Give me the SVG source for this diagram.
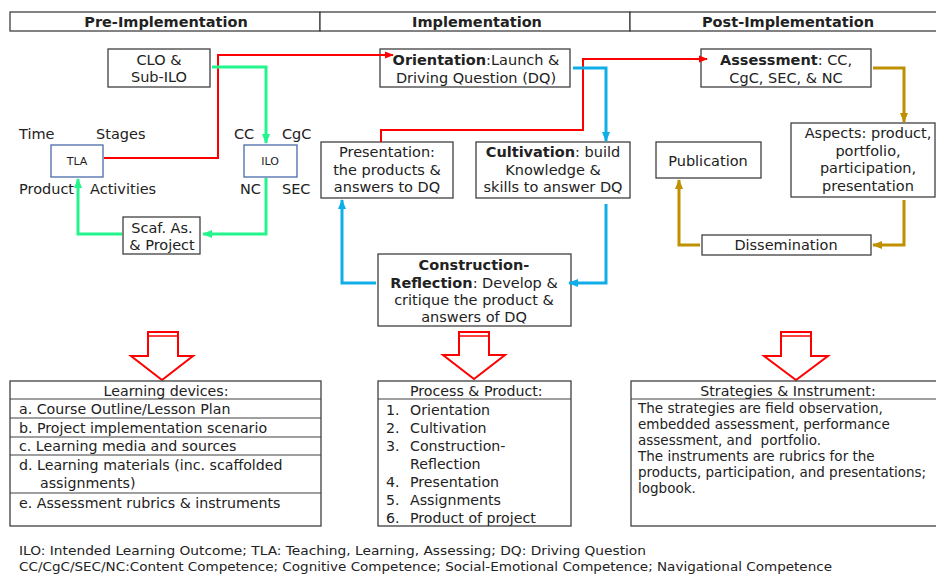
<svg xmlns="http://www.w3.org/2000/svg" width="936" height="575" viewBox="0 0 936 575">
<style>
text{font-family:"DejaVu Sans",Verdana,sans-serif;fill:#222;}
.t{font-size:14.5px;}
.c{text-anchor:middle;}
.h{font-size:14.5px;font-weight:bold;text-anchor:middle;}
.s{font-size:11px;text-anchor:middle;}
.l{font-size:14.2px;}
.m{font-size:13.5px;}
.f{font-size:12px;}
.box{fill:#fff;stroke:#404040;stroke-width:1.3;}
.bbox{fill:#fff;stroke:#4a6aa8;stroke-width:1.3;}
.row{stroke:#404040;stroke-width:1.2;}
.red{fill:none;stroke:#ff0000;stroke-width:2;}
.grn{fill:none;stroke:#22f58c;stroke-width:3;}
.blu{fill:none;stroke:#10aee8;stroke-width:3;}
.gld{fill:none;stroke:#bf9000;stroke-width:3;}
.big{fill:#fff;stroke:#ff0000;stroke-width:2;stroke-linejoin:miter;}
</style>
<defs>
<marker id="mr" viewBox="0 0 10 10" refX="9" refY="5" markerWidth="9" markerHeight="9" markerUnits="userSpaceOnUse" orient="auto"><path d="M0,1 L10,5 L0,9 z" fill="#ff0000"/></marker>
<marker id="mg" viewBox="0 0 10 10" refX="9" refY="5" markerWidth="10" markerHeight="10" markerUnits="userSpaceOnUse" orient="auto"><path d="M0,1 L10,5 L0,9 z" fill="#22f58c"/></marker>
<marker id="mb" viewBox="0 0 10 10" refX="9" refY="5" markerWidth="10" markerHeight="10" markerUnits="userSpaceOnUse" orient="auto"><path d="M0,1 L10,5 L0,9 z" fill="#10aee8"/></marker>
<marker id="my" viewBox="0 0 10 10" refX="9" refY="5" markerWidth="10" markerHeight="10" markerUnits="userSpaceOnUse" orient="auto"><path d="M0,1 L10,5 L0,9 z" fill="#bf9000"/></marker>
</defs>
<rect width="936" height="575" fill="#fff"/>

<g id="headers">
<rect class="box" x="10" y="12" width="310" height="19"/>
<rect class="box" x="320" y="12" width="310" height="19"/>
<rect class="box" x="630" y="12" width="310" height="19"/>
<text class="h" x="166" y="27">Pre-Implementation</text>
<text class="h" x="477" y="27">Implementation</text>
<text class="h" x="788" y="27">Post-Implementation</text>
</g>

<g id="clo">
<rect class="box" x="108" y="49" width="102" height="38"/>
<text class="t c" x="159" y="65">CLO &amp;</text>
<text class="t c" x="159" y="82">Sub-ILO</text>
</g>
<g id="tla">
<rect class="bbox" x="51" y="145" width="52" height="32"/>
<text class="s" x="77" y="165">TLA</text>
<text class="t" x="19" y="139">Time</text>
<text class="t" x="96" y="139">Stages</text>
<text class="t" x="19" y="194">Product</text>
<text class="t" x="90" y="194">Activities</text>
</g>
<g id="ilo">
<rect class="bbox" x="244" y="145" width="53" height="32"/>
<text class="s" x="270" y="165">ILO</text>
<text class="t" x="234" y="139">CC</text>
<text class="t" x="282" y="139">CgC</text>
<text class="t" x="240" y="194">NC</text>
<text class="t" x="282" y="194">SEC</text>
</g>
<g id="scaf">
<rect class="box" x="123" y="217" width="77" height="37"/>
<text class="t c" x="162" y="233">Scaf. As.</text>
<text class="t c" x="162" y="250">&amp; Project</text>
</g>

<g id="orientation">
<rect class="box" x="380" y="49" width="190" height="38"/>
<text class="t c" x="476" y="65"><tspan font-weight="bold">Orientation</tspan>:Launch &amp;</text>
<text class="t c" x="476" y="83">Driving Question (DQ)</text>
</g>
<g id="presentation">
<rect class="box" x="321" y="142" width="132" height="56"/>
<text class="t c" x="387" y="157">Presentation:</text>
<text class="t c" x="387" y="175">the products &amp;</text>
<text class="t c" x="387" y="192">answers to DQ</text>
</g>
<g id="cultivation">
<rect class="box" x="476" y="142" width="154" height="56"/>
<text class="t c" x="553" y="157"><tspan font-weight="bold">Cultivation</tspan>: build</text>
<text class="t c" x="553" y="175">Knowledge &amp;</text>
<text class="t c" x="553" y="192">skills to answer DQ</text>
</g>
<g id="construction">
<rect class="box" x="378" y="254" width="193" height="72"/>
<text class="t c" x="474" y="270" font-weight="bold">Construction-</text>
<text class="t c" x="474" y="288"><tspan font-weight="bold">Reflection</tspan>: Develop &amp;</text>
<text class="t c" x="474" y="305">critique the product &amp;</text>
<text class="t c" x="474" y="322">answers of DQ</text>
</g>

<g id="assessment">
<rect class="box" x="701" y="49" width="170" height="38"/>
<text class="t c" x="786" y="65"><tspan font-weight="bold">Assessment</tspan>: CC,</text>
<text class="t c" x="786" y="83">CgC, SEC, &amp; NC</text>
</g>
<g id="aspects">
<rect class="box" x="791" y="123" width="144" height="74"/>
<text class="t c" x="868" y="138">Aspects: product,</text>
<text class="t c" x="868" y="156">portfolio,</text>
<text class="t c" x="868" y="173">participation,</text>
<text class="t c" x="868" y="191">presentation</text>
</g>
<g id="publication">
<rect class="box" x="656" y="142" width="105" height="36"/>
<text class="t c" x="708" y="166">Publication</text>
</g>
<g id="dissemination">
<rect class="box" x="702" y="235" width="169" height="20"/>
<text class="t c" x="786" y="250">Dissemination</text>
</g>

<g id="connectors">
<polyline class="red" points="104,158 218,158 218,55 393,55" marker-end="url(#mr)"/>
<polyline class="red" points="381,142 381,130 583,130 583,59 707,59" marker-end="url(#mr)"/>
<polyline class="grn" points="212,67 266,67 266,143" marker-end="url(#mg)"/>
<polyline class="grn" points="266,178 266,234 203,234" marker-end="url(#mg)"/>
<polyline class="grn" points="122,234 78,234 78,179" marker-end="url(#mg)"/>
<polyline class="blu" points="573,68 606,68 606,141" marker-end="url(#mb)"/>
<polyline class="blu" points="606,204 606,283 569,283" marker-end="url(#mb)"/>
<polyline class="blu" points="376,283 342,283 342,200" marker-end="url(#mb)"/>
<polyline class="gld" points="873,68 904,68 904,122" marker-end="url(#my)"/>
<polyline class="gld" points="904,200 904,245 873,245" marker-end="url(#my)"/>
<polyline class="gld" points="700,245 679,245 679,180" marker-end="url(#my)"/>
</g>

<g id="arrow-pre">
<polygon class="big" points="148,332 178,332 178,356 193,356 162,380 131,356 148,356"/>
<line x1="148" y1="336" x2="178" y2="336" stroke="#ff0000" stroke-width="1.5"/>
</g>
<g id="arrow-impl">
<polygon class="big" points="459,332 489,332 489,355 505,355 474,379 443,355 459,355"/>
<line x1="459" y1="336" x2="489" y2="336" stroke="#ff0000" stroke-width="1.5"/>
</g>
<g id="arrow-post">
<polygon class="big" points="781,332 811,332 811,356 828,356 796,380 764,356 781,356"/>
<line x1="781" y1="336" x2="811" y2="336" stroke="#ff0000" stroke-width="1.5"/>
</g>

<g id="learning-devices">
<rect class="box" x="10" y="381" width="311" height="145"/>
<line class="row" x1="10" y1="399" x2="321" y2="399"/>
<line class="row" x1="10" y1="418" x2="321" y2="418"/>
<line class="row" x1="10" y1="437" x2="321" y2="437"/>
<line class="row" x1="10" y1="455" x2="321" y2="455"/>
<line class="row" x1="10" y1="493" x2="321" y2="493"/>
<text class="l c" x="166" y="396">Learning devices:</text>
<text class="l" x="19" y="414">a. Course Outline/Lesson Plan</text>
<text class="l" x="19" y="433">b. Project implementation scenario</text>
<text class="l" x="19" y="451">c. Learning media and sources</text>
<text class="l" x="19" y="470">d. Learning materials (inc. scaffolded</text>
<text class="l" x="40" y="488">assignments)</text>
<text class="l" x="19" y="508">e. Assessment rubrics &amp; instruments</text>
</g>

<g id="process-product">
<rect class="box" x="378" y="381" width="193" height="145"/>
<line class="row" x1="378" y1="399" x2="571" y2="399"/>
<text class="l" x="410" y="396">Process &amp; Product:</text>
<text class="l" x="386" y="415">1.</text><text class="l" x="410" y="415">Orientation</text>
<text class="l" x="386" y="433">2.</text><text class="l" x="410" y="433">Cultivation</text>
<text class="l" x="386" y="451">3.</text><text class="l" x="410" y="451">Construction-</text>
<text class="l" x="410" y="469">Reflection</text>
<text class="l" x="386" y="487">4.</text><text class="l" x="410" y="487">Presentation</text>
<text class="l" x="386" y="505">5.</text><text class="l" x="410" y="505">Assignments</text>
<text class="l" x="386" y="523">6.</text><text class="l" x="410" y="523">Product of project</text>
</g>

<g id="strategies">
<rect class="box" x="631" y="381" width="310" height="145"/>
<line class="row" x1="631" y1="399" x2="936" y2="399"/>
<text class="l c" x="788" y="396">Strategies &amp; Instrument:</text>
<text class="m" x="638" y="413">The strategies are field observation,</text>
<text class="m" x="638" y="429">embedded assessment, performance</text>
<text class="m" x="638" y="445" style="white-space:pre">assessment, and  portfolio.</text>
<text class="m" x="638" y="461">The instruments are rubrics for the</text>
<text class="m" x="638" y="477">products, participation, and presentations;</text>
<text class="m" x="638" y="493">logbook.</text>
</g>

<g id="footnote">
<text class="f" x="19" y="555" textLength="627" lengthAdjust="spacingAndGlyphs">ILO: Intended Learning Outcome; TLA: Teaching, Learning, Assessing; DQ: Driving Question</text>
<text class="f" x="19" y="571" textLength="813" lengthAdjust="spacingAndGlyphs">CC/CgC/SEC/NC:Content Competence; Cognitive Competence; Social-Emotional Competence; Navigational Competence</text>
</g>
</svg>
